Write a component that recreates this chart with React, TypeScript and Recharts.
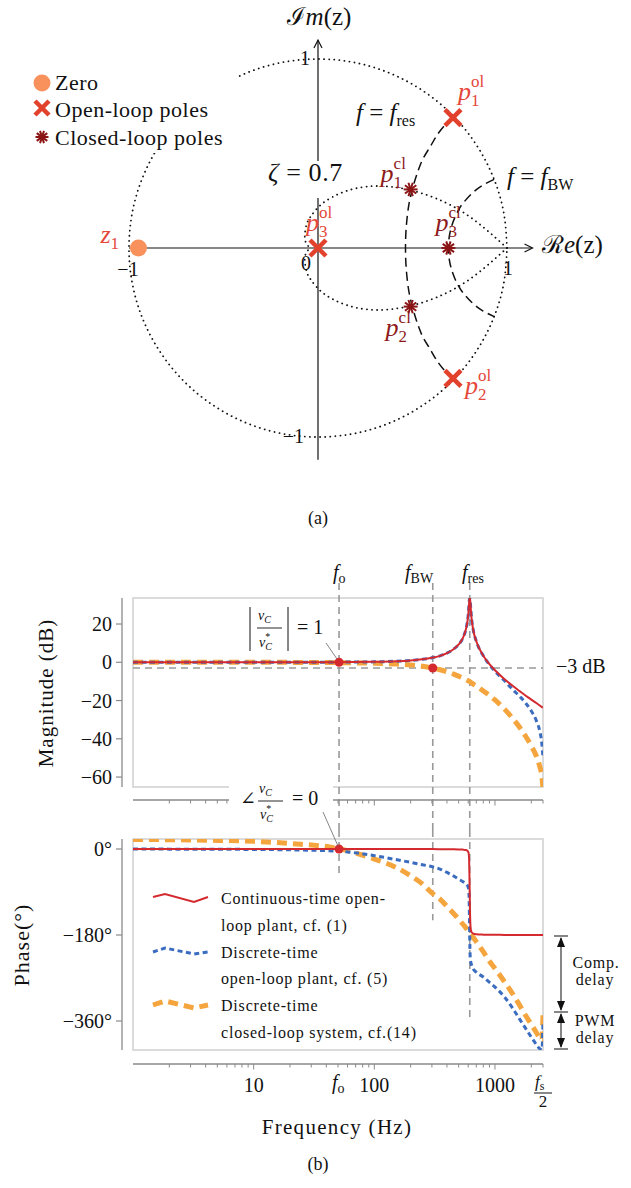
import React from "react";
import {
  ComposedChart,
  Line,
  Scatter,
  XAxis,
  YAxis,
  ReferenceLine,
  ReferenceDot,
  ReferenceArea,
} from "recharts";

const SERIF = "'Liberation Serif', 'DejaVu Serif', serif";
const OL_RED = "#e2412c";
const CL_RED = "#8b1414";
const ZERO_ORANGE = "#f8915c";
const LBL_RED = "#e5473a";
const LBL_DARK = "#8e1b1b";
const C_RED = "#d42a2f";
const C_BLUE = "#3a6cbf";
const C_ORANGE = "#f5a53e";
const GREY = "#999999";
const AXIS = "#8a8a8a";

// ---------- (a) pole-zero map, z-plane ----------
const unitCircle = [
  [1, 0], [0.985, 0.174], [0.94, 0.342], [0.866, 0.5], [0.766, 0.643], [0.643, 0.766],
  [0.5, 0.866], [0.342, 0.94], [0.174, 0.985], [0, 1], [-0.174, 0.985], [-0.342, 0.94],
  [-0.5, 0.866], [-0.643, 0.766], [-0.766, 0.643], [-0.866, 0.5], [-0.94, 0.342], [-0.985, 0.174],
  [-1, 0], [-0.985, -0.174], [-0.94, -0.342], [-0.866, -0.5], [-0.766, -0.643], [-0.643, -0.766],
  [-0.5, -0.866], [-0.342, -0.94], [-0.174, -0.985], [0, -1], [0.174, -0.985], [0.342, -0.94],
  [0.5, -0.866], [0.643, -0.766], [0.766, -0.643], [0.866, -0.5], [0.94, -0.342], [0.985, -0.174],
  [1, 0],
];

// zeta = 0.7 damping curve
const dampingCurve = [
  [1, 0], [0.806, 0.163], [0.623, 0.263], [0.458, 0.313], [0.318, 0.328], [0.203, 0.316],
  [0.112, 0.287], [0.043, 0.25], [-0.006, 0.208], [-0.039, 0.166], [-0.059, 0.128],
  [-0.07, 0.064], [-0.06, 0.021], [-0.046, 0], [-0.06, -0.021], [-0.07, -0.064],
  [-0.059, -0.128], [-0.039, -0.166], [-0.006, -0.208], [0.043, -0.25], [0.112, -0.287],
  [0.203, -0.316], [0.318, -0.328], [0.458, -0.313], [0.623, -0.263], [0.806, -0.163], [1, 0],
];

// f = f_res
const resCurve = [
  [0.717, 0.697], [0.665, 0.643], [0.624, 0.588], [0.592, 0.533], [0.558, 0.477],
  [0.534, 0.421], [0.515, 0.365], [0.498, 0.305], [0.483, 0.241], [0.472, 0.165],
  [0.465, 0.08], [0.463, 0], [0.465, -0.08], [0.472, -0.165], [0.483, -0.241],
  [0.498, -0.305], [0.515, -0.365], [0.534, -0.421], [0.558, -0.477], [0.592, -0.533],
  [0.624, -0.588], [0.665, -0.643], [0.717, -0.697],
];

// f = f_BW
const bwCurve = [
  [0.932, 0.363], [0.868, 0.33], [0.813, 0.287], [0.765, 0.234], [0.744, 0.202],
  [0.725, 0.164], [0.707, 0.115], [0.695, 0.063], [0.69, 0], [0.695, -0.063],
  [0.707, -0.115], [0.725, -0.164], [0.744, -0.202], [0.765, -0.234], [0.813, -0.287],
  [0.868, -0.33], [0.932, -0.363],
];

const zeros = [{ x: -0.95, y: 0, id: "1" }];
const openLoopPoles = [
  { x: 0.714, y: 0.69, id: "1" },
  { x: 0.714, y: -0.69, id: "2" },
  { x: 0, y: 0, id: "3" },
];
const closedLoopPoles = [
  { x: 0.49, y: 0.31, id: "1" },
  { x: 0.49, y: -0.31, id: "2" },
  { x: 0.69, y: 0, id: "3" },
];

// label placement relative to marker (px)
const olLabelPos: Record<string, number[]> = { "1": [5, -18], "2": [12, 16], "3": [-12, -17] };
const clLabelPos: Record<string, number[]> = { "1": [-30, -7], "2": [-25, 29], "3": [-13, -17] };

const pts = (a: number[][]) => a.map(([x, y]) => ({ x, y }));

// ---------- (b) Bode plot ----------
const freqHz = [
  1, 2, 5, 10, 20, 50, 100, 150, 200, 250, 300, 350, 400, 450, 500, 540, 570, 590, 600, 606,
  610, 614, 618, 622, 626, 632, 640, 660, 700, 800, 900, 1000, 1200, 1400, 1600, 1800, 2000,
  2200, 2350, 2450, 2500,
];
const magContinuous = [
  0, 0, 0, 0, 0, 0.06, 0.23, 0.53, 0.96, 1.55, 2.34, 3.37, 4.8, 6.7, 9.3, 12.5, 16.5, 21, 24.8,
  28.3, 30.8, 32.8, 33.5, 32.8, 30.6, 26.8, 22.8, 17, 11, 3.4, -1, -4.2, -8.85, -12.3, -15.1,
  -17.5, -19.5, -21.3, -22.6, -23.4, -23.7,
];
const magDiscrete = [
  0, 0, 0, 0, 0, 0.06, 0.23, 0.53, 0.96, 1.55, 2.34, 3.37, 4.8, 6.7, 9.3, 12.5, 16.5, 21, 24.8,
  28.3, 30.8, 32.8, 33.5, 32.8, 30.6, 26.8, 22.8, 17, 11, 3.4, -1.3, -4.7, -9.7, -14.2, -17.8,
  -21.4, -25.5, -30.5, -36, -43, -50,
];
const magClosedLoop = [
  0, 0, 0, 0, -0.05, -0.2, -0.5, -0.9, -1.4, -2.1, -2.9, -3.9, -5, -6.1, -7.3, -8.2, -8.9,
  -9.4, -9.7, -9.8, -9.9, -10, -10.1, -10.2, -10.3, -10.5, -10.8, -11.4, -12.4, -15, -17.3,
  -19.7, -24.5, -29.3, -34, -38.8, -43.7, -49, -54.5, -60, -66,
];
const phaseContinuous = [
  0, 0, 0, 0, 0, 0, 0, -0.1, -0.1, -0.2, -0.2, -0.3, -0.4, -0.6, -0.9, -1.3, -2, -3.5, -6, -10,
  -20, -55, -100, -140, -160, -170, -174, -177, -178.5, -179.3, -179.6, -179.7, -179.8, -179.9,
  -180, -180, -180, -180, -180, -180, -180,
];
const phaseDiscrete = [
  -0.1, -0.3, -0.7, -0.9, -1.8, -4.5, -14, -22, -28, -33, -37, -42, -49, -56, -63, -68, -72,
  -76, -80, -86, -100, -140, -190, -222, -232, -238, -243, -251, -258, -268, -279, -289, -310,
  -333, -356, -376, -394, -409, -418, -420, -360,
];
const phaseClosedLoop = [
  20, 19.5, 18, 16, 11.5, 1, -21, -38, -56, -73, -92, -105, -120, -134, -147, -157, -164, -169,
  -172, -174, -175, -176, -177, -177.5, -178, -179, -181, -185, -194, -215, -235, -250, -278,
  -303, -327, -349, -367, -384, -396, -402, -347,
];

const fO = 51;
const fBW = 305;
const fRes = 618;
const fHalfS = 2500;

const majorTicks = [10, 100, 1000];
const minorTicks = [
  2, 3, 4, 5, 6, 7, 8, 9, 20, 30, 40, 50, 60, 70, 80, 90, 200, 300, 400, 500, 600, 700, 800,
  900, 2000, 2500,
];
const magTicks = [20, 0, -20, -40, -60];
const phaseTicks = [0, -180, -360];

const bodeRows = freqHz.map((f, i) => ({
  f,
  magC: magContinuous[i],
  magD: magDiscrete[i],
  magCL: magClosedLoop[i],
  phC: phaseContinuous[i],
  phD: phaseDiscrete[i],
  phCL: phaseClosedLoop[i],
}));

const MAG_DOMAIN: [number, number] = [-65.2, 33.6];
const PH_DOMAIN: [number, number] = [-420.7, 20.9];

// ---------- marks ----------
function XMark({ cx, cy, s = 8, w = 4.5 }: any) {
  return (
    <g>
      <line x1={cx - s} y1={cy - s} x2={cx + s} y2={cy + s} stroke={OL_RED} strokeWidth={w} />
      <line x1={cx - s} y1={cy + s} x2={cx + s} y2={cy - s} stroke={OL_RED} strokeWidth={w} />
    </g>
  );
}

function Star({ cx, cy, r = 7 }: any) {
  const rays = [0, 36, 72, 108, 144].map((a) => {
    const t = (a * Math.PI) / 180;
    return (
      <line
        key={a}
        x1={cx - r * Math.cos(t)}
        y1={cy - r * Math.sin(t)}
        x2={cx + r * Math.cos(t)}
        y2={cy + r * Math.sin(t)}
        stroke={CL_RED}
        strokeWidth={2}
      />
    );
  });
  return <g>{rays}</g>;
}

function PoleLabel({ x, y, base, sub, sup, color }: any) {
  return (
    <text x={x} y={y} fill={color} style={{ fontFamily: SERIF }} fontSize={26}>
      <tspan fontStyle="italic">{base}</tspan>
      <tspan fontSize={17} dy={6}>{sub}</tspan>
      {sup ? (
        <tspan fontSize={17} dx={-8.5} dy={-19}>
          {sup}
        </tspan>
      ) : null}
    </text>
  );
}

const arrowShape = (p: any) => {
  const { x1, y1, x2, y2 } = p;
  const ang = Math.atan2(y2 - y1, x2 - x1);
  const a = 8;
  const w = 4;
  const bx = x2 - a * Math.cos(ang);
  const by = y2 - a * Math.sin(ang);
  const nx = -Math.sin(ang) * w;
  const ny = Math.cos(ang) * w;
  return (
    <g>
      <line x1={x1} y1={y1} x2={x2} y2={y2} stroke="#111" strokeWidth={1.2} />
      <path
        d={`M${bx + nx},${by + ny} L${x2},${y2} L${bx - nx},${by - ny}`}
        fill="none"
        stroke="#111"
        strokeWidth={1.2}
      />
    </g>
  );
};

function ZPlane() {
  const dotted = { stroke: "#111", strokeWidth: 1.8, strokeDasharray: "0.1 5", strokeLinecap: "round" as const };
  const dashed = { stroke: "#111", strokeWidth: 1.5, strokeDasharray: "9 5" };
  return (
    <ComposedChart width={631} height={500} margin={{ top: 0, right: 0, bottom: 0, left: 0 }}>
      <XAxis type="number" dataKey="x" domain={[-1.6825, 1.6561]} allowDataOverflow hide />
      <YAxis type="number" dataKey="y" domain={[-1.3333, 1.3122]} allowDataOverflow hide />
      <ReferenceLine segment={[{ x: -1, y: 0 }, { x: 1.135, y: 0 }]} ifOverflow="visible" shape={arrowShape} />
      <ReferenceLine segment={[{ x: 0, y: -1.12 }, { x: 0, y: 1.1 }]} ifOverflow="visible" shape={arrowShape} />
      <Line data={pts(unitCircle)} dataKey="y" type="natural" dot={false} activeDot={false} isAnimationActive={false} {...dotted} />
      <Line data={pts(dampingCurve)} dataKey="y" type="natural" dot={false} activeDot={false} isAnimationActive={false} {...dotted} />
      <Line data={pts(resCurve)} dataKey="y" type="natural" dot={false} activeDot={false} isAnimationActive={false} {...dashed} />
      <Line data={pts(bwCurve)} dataKey="y" type="natural" dot={false} activeDot={false} isAnimationActive={false} {...dashed} />
      <Scatter
        data={zeros}
        isAnimationActive={false}
        shape={(p: any) => (
          <g>
            <circle cx={p.cx} cy={p.cy} r={8.5} fill={ZERO_ORANGE} />
            <PoleLabel x={p.cx - 38} y={p.cy - 5} base="z" sub="1" color={LBL_RED} />
          </g>
        )}
      />
      <Scatter
        data={openLoopPoles}
        isAnimationActive={false}
        shape={(p: any) => {
          const id = p.payload.id;
          const [dx, dy] = olLabelPos[id];
          return (
            <g>
              <XMark cx={p.cx} cy={p.cy} />
              <PoleLabel x={p.cx + dx} y={p.cy + dy} base="p" sub={id} sup="ol" color={LBL_RED} />
            </g>
          );
        }}
      />
      <Scatter
        data={closedLoopPoles}
        isAnimationActive={false}
        shape={(p: any) => {
          const id = p.payload.id;
          const [dx, dy] = clLabelPos[id];
          return (
            <g>
              <Star cx={p.cx} cy={p.cy} />
              <PoleLabel x={p.cx + dx} y={p.cy + dy} base="p" sub={id} sup="cl" color={LBL_DARK} />
            </g>
          );
        }}
      />
    </ComposedChart>
  );
}

// ---------- Bode ticks ----------
const yTick = (labels: Record<number, string>) => (p: any) => {
  const { x, y, payload } = p;
  const sx = x - 11;
  return (
    <g>
      <line x1={sx} y1={y} x2={sx - 6} y2={y} stroke={AXIS} strokeWidth={1.2} />
      <text x={sx - 10} y={y + 7} textAnchor="end" style={{ fontFamily: SERIF }} fontSize={20} fill="#111">
        {labels[payload.value]}
      </text>
    </g>
  );
};

const magXTick = (p: any) => {
  const { x, y, payload } = p;
  const major = majorTicks.includes(payload.value);
  const sy = y + 13;
  return <line x1={x} x2={x} y1={sy} y2={sy + (major ? 5.5 : 3.5)} stroke={AXIS} strokeWidth={1} />;
};

const phaseXTick = (p: any) => {
  const { x, y, payload } = p;
  const v = payload.value;
  const sy = y + 14;
  const major = majorTicks.includes(v);
  if (v === fO) {
    return (
      <text x={x - 7} y={sy + 25} style={{ fontFamily: SERIF }} fontSize={20} fill="#111">
        <tspan fontStyle="italic">f</tspan>
        <tspan fontSize={14} dy={4}>o</tspan>
      </text>
    );
  }
  return (
    <g>
      <line x1={x} x2={x} y1={sy} y2={sy + (major ? 5.5 : 3.5)} stroke={AXIS} strokeWidth={1} />
      {major ? (
        <text x={x} y={sy + 28} textAnchor="middle" style={{ fontFamily: SERIF }} fontSize={20} fill="#111">
          {v}
        </text>
      ) : null}
      {v === fHalfS ? (
        <g style={{ fontFamily: SERIF }} fill="#111">
          <text x={x - 8} y={sy + 23} fontSize={17}>
            <tspan fontStyle="italic">f</tspan>
            <tspan fontSize={12} dy={3}>s</tspan>
          </text>
          <line x1={x - 9} x2={x + 9} y1={sy + 29} y2={sy + 29} stroke="#111" strokeWidth={1} />
          <text x={x} y={sy + 43} fontSize={17} textAnchor="middle">2</text>
        </g>
      ) : null}
    </g>
  );
};

function MagnitudeChart() {
  return (
    <ComposedChart width={631} height={270} data={bodeRows} margin={{ top: 38, right: 88, bottom: 0, left: 0 }}>
      <XAxis
        dataKey="f"
        type="number"
        scale="log"
        domain={[1, fHalfS]}
        allowDataOverflow
        ticks={[...minorTicks, ...majorTicks]}
        interval={0}
        height={43}
        tickSize={0}
        tickMargin={0}
        tickLine={false}
        axisLine={false}
        tick={magXTick}
      />
      <YAxis
        type="number"
        domain={MAG_DOMAIN}
        allowDataOverflow
        ticks={magTicks}
        interval={0}
        width={133}
        tickSize={0}
        tickMargin={0}
        tickLine={false}
        axisLine={false}
        tick={yTick({ 20: "20", 0: "0", [-20]: "−20", [-40]: "−40", [-60]: "−60" })}
      />
      <ReferenceArea x1={1} x2={fHalfS} y1={MAG_DOMAIN[0]} y2={MAG_DOMAIN[1]} fill="none" stroke="#cfcfcf" strokeWidth={1.5} ifOverflow="visible" />
      <ReferenceLine y={-3} stroke={GREY} strokeWidth={1.6} strokeDasharray="7 5" />
      {[fO, fBW, fRes].map((f) => (
        <ReferenceLine
          key={f}
          segment={[{ x: f, y: 41.4 }, { x: f, y: -88 }]}
          ifOverflow="visible"
          stroke={GREY}
          strokeWidth={1.6}
          strokeDasharray="7 5"
        />
      ))}
      <Line dataKey="magCL" type="monotone" stroke={C_ORANGE} strokeWidth={5} strokeDasharray="10 6" dot={false} activeDot={false} isAnimationActive={false} />
      <Line dataKey="magD" type="monotone" stroke={C_BLUE} strokeWidth={3} strokeDasharray="5 3.5" dot={false} activeDot={false} isAnimationActive={false} />
      <Line dataKey="magC" type="monotone" stroke={C_RED} strokeWidth={2} dot={false} activeDot={false} isAnimationActive={false} />
      <ReferenceDot x={fO} y={0} r={4.5} fill={C_RED} stroke="none" />
      <ReferenceDot x={fBW} y={-3} r={4.5} fill={C_RED} stroke="none" />
    </ComposedChart>
  );
}

function PhaseChart() {
  const ends = [
    { f: fO, end: -50 },
    { f: fBW, end: -149 },
    { f: fRes, end: -352 },
  ];
  return (
    <ComposedChart width={631} height={358} data={bodeRows} margin={{ top: 9, right: 88, bottom: 0, left: 0 }}>
      <XAxis
        dataKey="f"
        type="number"
        scale="log"
        domain={[1, fHalfS]}
        allowDataOverflow
        ticks={[...minorTicks, ...majorTicks, fO]}
        interval={0}
        height={138}
        tickSize={0}
        tickMargin={0}
        tickLine={false}
        axisLine={false}
        tick={phaseXTick}
      />
      <YAxis
        type="number"
        domain={PH_DOMAIN}
        allowDataOverflow
        ticks={phaseTicks}
        interval={0}
        width={133}
        tickSize={0}
        tickMargin={0}
        tickLine={false}
        axisLine={false}
        tick={yTick({ 0: "0°", [-180]: "−180°", [-360]: "−360°" })}
      />
      <ReferenceArea x1={1} x2={fHalfS} y1={PH_DOMAIN[0]} y2={PH_DOMAIN[1]} fill="none" stroke="#cfcfcf" strokeWidth={1.5} ifOverflow="visible" />
      {ends.map((e) => (
        <ReferenceLine
          key={e.f}
          segment={[{ x: e.f, y: 39.5 }, { x: e.f, y: e.end }]}
          ifOverflow="visible"
          stroke={GREY}
          strokeWidth={1.6}
          strokeDasharray="7 5"
        />
      ))}
      <Line dataKey="phCL" type="monotone" stroke={C_ORANGE} strokeWidth={5} strokeDasharray="10 6" dot={false} activeDot={false} isAnimationActive={false} />
      <Line dataKey="phD" type="monotone" stroke={C_BLUE} strokeWidth={3} strokeDasharray="5 3.5" dot={false} activeDot={false} isAnimationActive={false} />
      <Line dataKey="phC" type="monotone" stroke={C_RED} strokeWidth={2} dot={false} activeDot={false} isAnimationActive={false} />
      <ReferenceDot x={fO} y={0} r={4.5} fill={C_RED} stroke="none" />
    </ComposedChart>
  );
}

function Overlay() {
  const t = { style: { fontFamily: SERIF }, fill: "#111" };
  return (
    <svg width={631} height={1188} style={{ position: "absolute", left: 0, top: 0, pointerEvents: "none" }}>
      {/* ---- (a) ---- */}
      <rect x={18} y={64} width={218} height={89} fill="white" />
      <circle cx={42} cy={83} r={8.5} fill={ZERO_ORANGE} />
      <XMark cx={42} cy={108} s={7} w={4.5} />
      <Star cx={42} cy={137} r={6.5} />
      <g {...t} fontSize={22} letterSpacing={0.5}>
        <text x={55} y={90}>Zero</text>
        <text x={55} y={117}>Open-loop poles</text>
        <text x={55} y={145}>Closed-loop poles</text>
      </g>
      <rect x={264} y={161} width={68} height={37} fill="white" />
      <text x={268} y={181} {...t} fontSize={26} letterSpacing={0.6}>
        <tspan fontStyle="italic">ζ</tspan> = 0.7
      </text>
      <text x={356} y={121} {...t} fontSize={25}>
        <tspan fontStyle="italic">f</tspan> = <tspan fontStyle="italic">f</tspan>
        <tspan fontSize={16} dy={5}>res</tspan>
      </text>
      <text x={507} y={185} {...t} fontSize={25}>
        <tspan fontStyle="italic">f</tspan> = <tspan fontStyle="italic">f</tspan>
        <tspan fontSize={16} dy={5}>BW</tspan>
      </text>
      <text x={319} y={25} {...t} fontSize={25} textAnchor="middle">
        ℐ<tspan fontStyle="italic">m</tspan>(z)
      </text>
      <text x={542} y={253} {...t} fontSize={25}>
        ℛ<tspan fontStyle="italic">e</tspan>(z)
      </text>
      <g {...t} fontSize={20}>
        <text x={310} y={65} textAnchor="end">1</text>
        <text x={304} y={443} textAnchor="end">−1</text>
        <text x={311} y={270} textAnchor="end">0</text>
        <text x={128} y={276} textAnchor="middle">−1</text>
        <text x={508} y={275} textAnchor="middle">1</text>
      </g>
      <text x={318} y={524} {...t} fontSize={18} textAnchor="middle">(a)</text>

      {/* ---- (b) ---- */}
      <line x1={122} x2={122} y1={598} y2={787} stroke={AXIS} strokeWidth={1.3} />
      <line x1={133} x2={543} y1={800} y2={800} stroke={AXIS} strokeWidth={1.3} />
      <line x1={122} x2={122} y1={839} y2={1050} stroke={AXIS} strokeWidth={1.3} />
      <line x1={133} x2={543} y1={1064} y2={1064} stroke={AXIS} strokeWidth={1.3} />

      <g {...t} fontSize={20}>
        <text x={333} y={579}>
          <tspan fontStyle="italic">f</tspan>
          <tspan fontSize={14} dy={4}>o</tspan>
        </text>
        <text x={405} y={579}>
          <tspan fontStyle="italic">f</tspan>
          <tspan fontSize={14} dy={4}>BW</tspan>
        </text>
        <text x={462} y={579}>
          <tspan fontStyle="italic">f</tspan>
          <tspan fontSize={14} dy={4}>res</tspan>
        </text>
        <text x={556} y={673}>−3 dB</text>
      </g>

      {/* |vC/vC*| = 1 */}
      <line x1={250} x2={250} y1={607} y2={651} stroke="#111" strokeWidth={1} />
      <line x1={288} x2={288} y1={607} y2={651} stroke="#111" strokeWidth={1} />
      <text x={258} y={620} {...t} fontSize={14}>
        <tspan fontStyle="italic">v</tspan>
        <tspan fontSize={10} fontStyle="italic" dy={3}>C</tspan>
      </text>
      <line x1={257} x2={282} y1={628} y2={628} stroke="#111" strokeWidth={0.9} />
      <text x={259} y={647} {...t} fontSize={14}>
        <tspan fontStyle="italic">v</tspan>
        <tspan fontSize={10} dy={-7}>*</tspan>
        <tspan fontSize={10} fontStyle="italic" dx={-5} dy={10}>C</tspan>
      </text>
      <text x={297} y={634} {...t} fontSize={20}>= 1</text>
      <line x1={326} y1={643} x2={337} y2={659} stroke="#666" strokeWidth={0.8} />

      {/* angle annotation */}
      <rect x={229} y={783} width={104} height={39} fill="white" />
      <text x={240} y={805} {...t} fontSize={19}>∠</text>
      <text x={259} y={793} {...t} fontSize={14}>
        <tspan fontStyle="italic">v</tspan>
        <tspan fontSize={10} fontStyle="italic" dy={3}>C</tspan>
      </text>
      <line x1={258} x2={283} y1={801} y2={801} stroke="#111" strokeWidth={0.9} />
      <text x={260} y={819} {...t} fontSize={14}>
        <tspan fontStyle="italic">v</tspan>
        <tspan fontSize={10} dy={-7}>*</tspan>
        <tspan fontSize={10} fontStyle="italic" dx={-5} dy={10}>C</tspan>
      </text>
      <text x={292} y={805} {...t} fontSize={20}>= 0</text>
      <line x1={323} y1={812} x2={338} y2={846} stroke="#666" strokeWidth={0.8} />

      {/* legend of the phase plot */}
      <path d="M153,897 L165,894 L194,902 L208,897" fill="none" stroke={C_RED} strokeWidth={2} />
      <path d="M153,952 L165,948 L194,954 L208,952" fill="none" stroke={C_BLUE} strokeWidth={3} strokeDasharray="5 3.5" />
      <path d="M153,1005 L165,1001 L194,1008 L208,1005" fill="none" stroke={C_ORANGE} strokeWidth={5} strokeDasharray="10 6" />
      <g {...t} fontSize={16} letterSpacing={0.8}>
        <text x={221} y={904}>Continuous-time open-</text>
        <text x={221} y={931}>loop plant, cf. (1)</text>
        <text x={221} y={958}>Discrete-time</text>
        <text x={221} y={984}>open-loop plant, cf. (5)</text>
        <text x={221} y={1011}>Discrete-time</text>
        <text x={221} y={1038}>closed-loop system, cf.(14)</text>
      </g>

      {/* delay arrows */}
      <g stroke="#444" strokeWidth={1.3}>
        <line x1={554} x2={568} y1={936} y2={936} />
        <line x1={554} x2={568} y1={1012} y2={1012} />
        <line x1={554} x2={568} y1={1049} y2={1049} />
        <line x1={561} x2={561} y1={938} y2={1010} />
        <line x1={561} x2={561} y1={1014} y2={1047} />
      </g>
      <g fill="#111">
        <path d="M561,937 L557,947 L565,947 Z" />
        <path d="M561,1011 L557,1001 L565,1001 Z" />
        <path d="M561,1013 L557,1023 L565,1023 Z" />
        <path d="M561,1048 L557,1038 L565,1038 Z" />
      </g>
      <g {...t} fontSize={16} letterSpacing={0.8} textAnchor="middle">
        <text x={596} y={968}>Comp.</text>
        <text x={595} y={985}>delay</text>
        <text x={595} y={1026}>PWM</text>
        <text x={595} y={1043}>delay</text>
      </g>

      {/* axis titles */}
      <text
        x={46}
        y={693}
        {...t}
        fontSize={21}
        letterSpacing={1}
        textAnchor="middle"
        dominantBaseline="central"
        transform="rotate(-90 46 693)"
      >
        Magnitude (dB)
      </text>
      <text
        x={21}
        y={945}
        {...t}
        fontSize={22}
        letterSpacing={1}
        textAnchor="middle"
        dominantBaseline="central"
        transform="rotate(-90 21 945)"
      >
        Phase(°)
      </text>
      <text x={337} y={1134} {...t} fontSize={21} letterSpacing={1.3} textAnchor="middle">
        Frequency (Hz)
      </text>
      <text x={318} y={1170} {...t} fontSize={18} textAnchor="middle">(b)</text>
    </svg>
  );
}

export default function App() {
  return (
    <div
      style={{
        position: "absolute",
        left: 0,
        top: 0,
        width: 631,
        height: 1188,
        background: "white",
        overflow: "hidden",
      }}
    >
      <div style={{ position: "absolute", left: 0, top: 0 }}>
        <ZPlane />
      </div>
      <div style={{ position: "absolute", left: 0, top: 560 }}>
        <MagnitudeChart />
      </div>
      <div style={{ position: "absolute", left: 0, top: 830 }}>
        <PhaseChart />
      </div>
      <Overlay />
    </div>
  );
}
